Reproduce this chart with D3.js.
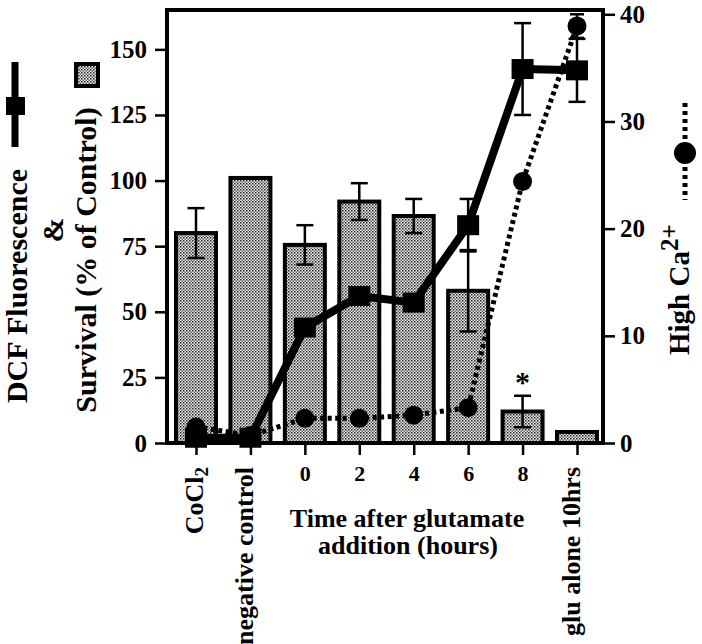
<!DOCTYPE html>
<html lang="en">
<head>
	<meta charset="UTF-8">
	<title>DCF Fluorescence and Survival</title>
	<script src="https://cdn.jsdelivr.net/npm/d3@7"></script>
	<style>
		body { margin: 0; background: #fff; }
		svg text { font-family: "Liberation Serif", "Times New Roman", serif; font-weight: bold; fill: #000; }
	</style>
</head>
<body>
	<div id="chart"></div>
<script>

	const categories = ["CoCl2", "negative control", "0", "2", "4", "6", "8", "glu alone 10hrs"]
	const survival = [80, 101, 75.5, 92, 86.5, 58, 12, 4.2]
	const survivalErr = [9.5, null, 7.5, 7, 6.5, 15.5, 6, null]
	const dcf = [2, 2, 44, 56, 53.5, 83, 142.5, 142]
	const dcfErr = [null, null, null, null, null, 10, 17.5, 12]
	const calcium = [1.5, 0.7, 2.3, 2.3, 2.6, 3.3, 24.4, 38.9]
	const calciumErr = [null, null, null, null, null, null, null, 1.1]
	const leftTicks = [0, 25, 50, 75, 100, 125, 150]
	const rightTicks = [0, 10, 20, 30, 40]

	const W = 702, H = 644
	const plot = { left: 167, top: 10, right: 603, bottom: 443 }

	const svg = d3.select("#chart").append("svg").attr("width", W).attr("height", H)

	// stipple fill used by the bars (fine checker)
	const pat = svg.append("defs").append("pattern")
		.attr("id", "stipple").attr("width", 3).attr("height", 3)
		.attr("patternUnits", "userSpaceOnUse")
	pat.append("rect").attr("width", 3).attr("height", 3).attr("fill", "#ececec")
	pat.append("rect").attr("x", 0).attr("y", 0).attr("width", 1.5).attr("height", 1.5).attr("fill", "#222")
	pat.append("rect").attr("x", 1.5).attr("y", 1.5).attr("width", 1.5).attr("height", 1.5).attr("fill", "#666")

	const x = d3.scalePoint().domain(categories).range([plot.left + 29, plot.right - 26])
	const yL = d3.scaleLinear().domain([0, 165]).range([plot.bottom, plot.top])
	const yR = d3.scaleLinear().domain([0, 40.4]).range([plot.bottom, plot.top])
	const barW = 40

	// bars
	svg.append("g").selectAll("rect").data(categories).join("rect")
		.attr("x", d => x(d) - barW / 2)
		.attr("y", (d, i) => yL(survival[i]))
		.attr("width", barW)
		.attr("height", (d, i) => plot.bottom - yL(survival[i]))
		.attr("fill", "url(#stipple)")
		.attr("stroke", "#000").attr("stroke-width", 4)

	function errorBars(vals, errs, scale, width) {
		const g = svg.append("g").attr("stroke", "#000").attr("stroke-width", 2.5)
		categories.forEach((c, i) => {
			if (errs[i] == null) return
			const cx = x(c), hi = scale(vals[i] + errs[i]), lo = scale(vals[i] - errs[i])
			g.append("line").attr("x1", cx).attr("x2", cx).attr("y1", hi).attr("y2", lo)
			g.append("line").attr("x1", cx - width / 2).attr("x2", cx + width / 2).attr("y1", hi).attr("y2", hi)
			g.append("line").attr("x1", cx - width / 2).attr("x2", cx + width / 2).attr("y1", lo).attr("y2", lo)
		})
	}
	errorBars(survival, survivalErr, yL, 17)

	// asterisk over the 8 h bar
	svg.append("text").attr("x", x("8")).attr("y", yL(survival[6] + survivalErr[6]) - 4)
		.attr("text-anchor", "middle").attr("font-size", 30).attr("font-weight", "normal").text("*")

	// calcium dotted line
	const lineCa = d3.line().x((d, i) => x(categories[i])).y(d => yR(d))
	svg.append("path").datum(calcium).attr("d", lineCa)
		.attr("fill", "none").attr("stroke", "#000").attr("stroke-width", 5)
		.attr("stroke-dasharray", "4,3.5")
	errorBars(calcium, calciumErr, yR, 14)
	svg.append("g").selectAll("circle").data(calcium).join("circle")
		.attr("cx", (d, i) => x(categories[i])).attr("cy", d => yR(d)).attr("r", 9.5)
		.attr("fill", "#000")

	// DCF fluorescence solid line
	const lineDcf = d3.line().x((d, i) => x(categories[i])).y(d => yL(d))
	errorBars(dcf, dcfErr, yL, 17)
	svg.append("path").datum(dcf).attr("d", lineDcf)
		.attr("fill", "none").attr("stroke", "#000").attr("stroke-width", 8)
		.attr("stroke-linejoin", "round")
	svg.append("g").selectAll("rect").data(dcf).join("rect")
		.attr("x", (d, i) => x(categories[i]) - 11).attr("y", d => yL(d) - 10)
		.attr("width", 22).attr("height", 20).attr("fill", "#000")

	// frame
	svg.append("rect").attr("x", plot.left).attr("y", plot.top)
		.attr("width", plot.right - plot.left).attr("height", plot.bottom - plot.top)
		.attr("fill", "none").attr("stroke", "#000").attr("stroke-width", 4)

	// axes
	const axL = svg.append("g").attr("transform", `translate(${plot.left},0)`)
		.call(d3.axisLeft(yL).tickValues(leftTicks).tickSize(12).tickPadding(8))
	const axR = svg.append("g").attr("transform", `translate(${plot.right},0)`)
		.call(d3.axisRight(yR).tickValues(rightTicks).tickSize(12).tickPadding(5))
	const axB = svg.append("g").attr("transform", `translate(0,${plot.bottom})`)
		.call(d3.axisBottom(x).tickSize(12).tickPadding(10))
	for (const ax of [axL, axR, axB]) {
		ax.select(".domain").remove()
		ax.selectAll(".tick line").attr("stroke", "#000").attr("stroke-width", 2.5)
		ax.selectAll("text").attr("font-size", 25).attr("font-family", null)
	}
	axB.selectAll("text").attr("font-size", 22)
	axB.selectAll(".tick text").filter(d => isNaN(+d))
		.attr("x", null).attr("y", null).attr("dy", null)
		.attr("text-anchor", "end").attr("font-size", 26)
		.attr("transform", d => `translate(${d === "CoCl2" ? 6 : 2},24) rotate(-90)`)
		.each(function (d) {
			if (d !== "CoCl2") return
			const t = d3.select(this).text("CoCl")
			t.append("tspan").attr("dy", "0.3em").attr("font-size", 19).text("2")
		})

	// x title
	const xt = svg.append("text").attr("x", 407).attr("y", 527).attr("text-anchor", "middle").attr("font-size", 26)
	xt.append("tspan").attr("x", 407).text("Time after glutamate")
	xt.append("tspan").attr("x", 408).attr("dy", 27).text("addition (hours)")

	// left titles
	svg.append("text").attr("transform", "translate(27,286) rotate(-90)")
		.attr("text-anchor", "middle").attr("font-size", 30).text("DCF Fluorescence")
	svg.append("text").attr("transform", "translate(63,230) rotate(-90)")
		.attr("text-anchor", "middle").attr("font-size", 30).text("&")
	svg.append("text").attr("transform", "translate(96,260) rotate(-90)")
		.attr("text-anchor", "middle").attr("font-size", 30).text("Survival (% of Control)")

	// left legend icons
	svg.append("line").attr("x1", 15).attr("x2", 15).attr("y1", 62).attr("y2", 147)
		.attr("stroke", "#000").attr("stroke-width", 7)
	svg.append("rect").attr("x", 6).attr("y", 97).attr("width", 19).attr("height", 18).attr("fill", "#000")
	svg.append("rect").attr("x", 76).attr("y", 64).attr("width", 22).attr("height", 22)
		.attr("fill", "url(#stipple)").attr("stroke", "#000").attr("stroke-width", 4)

	// right title + legend icon
	const rt = svg.append("text").attr("transform", "translate(689,355) rotate(-90)")
		.attr("font-size", 29).text("High Ca")
	rt.append("tspan").attr("dy", "-0.45em").attr("font-size", 25).text("2+")
	svg.append("line").attr("x1", 685).attr("x2", 685).attr("y1", 103).attr("y2", 200)
		.attr("stroke", "#000").attr("stroke-width", 5).attr("stroke-dasharray", "4,4")
	svg.append("circle").attr("cx", 685).attr("cy", 153).attr("r", 11).attr("fill", "#000")

</script>
</body>
</html>
